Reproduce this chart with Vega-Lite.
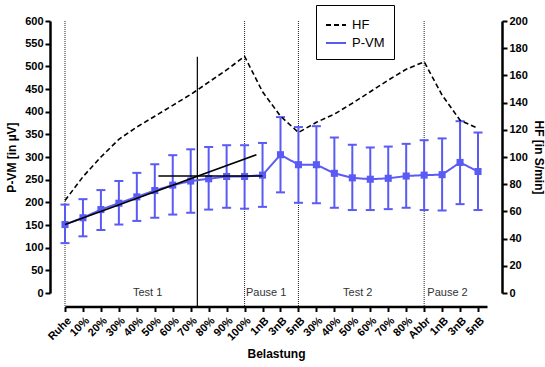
{
  "$schema": "https://vega.github.io/schema/vega-lite/v6.json",
  "width": 422,
  "height": 272,
  "autosize": {"type": "none"},
  "padding": {"left": 65, "top": 21, "right": 58, "bottom": 74},
  "background": "white",
  "config": {
    "view": {"stroke": null},
    "axis": {
      "domainColor": "black", "domainWidth": 2.5, "tickColor": "black", "tickWidth": 2, "tickSize": 5,
      "labelFont": "Liberation Sans", "labelFontWeight": "bold", "labelFontSize": 11, "labelColor": "black",
      "titleFont": "Liberation Sans", "titleFontWeight": "bold", "titleFontSize": 12, "titleColor": "black",
      "grid": false
    },
    "legend": {"labelFont": "Liberation Sans", "labelFontSize": 13, "labelColor": "black"}
  },
  "datasets": {
    "pvm": [
      {"i": 0, "series": "P-VM", "pvm": 151, "lo": 110, "hi": 195},
      {"i": 1, "series": "P-VM", "pvm": 166, "lo": 125, "hi": 207},
      {"i": 2, "series": "P-VM", "pvm": 184, "lo": 139, "hi": 227},
      {"i": 3, "series": "P-VM", "pvm": 198, "lo": 151, "hi": 247},
      {"i": 4, "series": "P-VM", "pvm": 212, "lo": 159, "hi": 265},
      {"i": 5, "series": "P-VM", "pvm": 226, "lo": 166, "hi": 284},
      {"i": 6, "series": "P-VM", "pvm": 238, "lo": 173, "hi": 304},
      {"i": 7, "series": "P-VM", "pvm": 247, "lo": 177, "hi": 317},
      {"i": 8, "series": "P-VM", "pvm": 252, "lo": 184, "hi": 322},
      {"i": 9, "series": "P-VM", "pvm": 257, "lo": 188, "hi": 326},
      {"i": 10, "series": "P-VM", "pvm": 257, "lo": 186, "hi": 326},
      {"i": 11, "series": "P-VM", "pvm": 260, "lo": 190, "hi": 331},
      {"i": 12, "series": "P-VM", "pvm": 305, "lo": 222, "hi": 388},
      {"i": 13, "series": "P-VM", "pvm": 283, "lo": 199, "hi": 366},
      {"i": 14, "series": "P-VM", "pvm": 283, "lo": 198, "hi": 368},
      {"i": 15, "series": "P-VM", "pvm": 264, "lo": 188, "hi": 343},
      {"i": 16, "series": "P-VM", "pvm": 254, "lo": 183, "hi": 327},
      {"i": 17, "series": "P-VM", "pvm": 251, "lo": 183, "hi": 321},
      {"i": 18, "series": "P-VM", "pvm": 253, "lo": 185, "hi": 323},
      {"i": 19, "series": "P-VM", "pvm": 258, "lo": 188, "hi": 329},
      {"i": 20, "series": "P-VM", "pvm": 260, "lo": 183, "hi": 337},
      {"i": 21, "series": "P-VM", "pvm": 261, "lo": 182, "hi": 341},
      {"i": 22, "series": "P-VM", "pvm": 288, "lo": 196, "hi": 379},
      {"i": 23, "series": "P-VM", "pvm": 268, "lo": 183, "hi": 354}
    ],
    "hf": [
      {"i": 0, "series": "HF", "hf": 68},
      {"i": 1, "series": "HF", "hf": 85.5},
      {"i": 2, "series": "HF", "hf": 100},
      {"i": 3, "series": "HF", "hf": 113},
      {"i": 4, "series": "HF", "hf": 122},
      {"i": 5, "series": "HF", "hf": 130},
      {"i": 6, "series": "HF", "hf": 138},
      {"i": 7, "series": "HF", "hf": 146},
      {"i": 8, "series": "HF", "hf": 155},
      {"i": 9, "series": "HF", "hf": 164},
      {"i": 10, "series": "HF", "hf": 174},
      {"i": 11, "series": "HF", "hf": 148},
      {"i": 12, "series": "HF", "hf": 130},
      {"i": 13, "series": "HF", "hf": 118},
      {"i": 14, "series": "HF", "hf": 125.5},
      {"i": 15, "series": "HF", "hf": 131.5},
      {"i": 16, "series": "HF", "hf": 139.5},
      {"i": 17, "series": "HF", "hf": 148},
      {"i": 18, "series": "HF", "hf": 156.5},
      {"i": 19, "series": "HF", "hf": 164.5},
      {"i": 20, "series": "HF", "hf": 170},
      {"i": 21, "series": "HF", "hf": 145.5},
      {"i": 22, "series": "HF", "hf": 127},
      {"i": 23, "series": "HF", "hf": 121}
    ],
    "dotted": [{"i": 0, "top": 600, "bottom": -30}, {"i": 10, "top": 600, "bottom": -30}, {"i": 13, "top": 600, "bottom": -30}, {"i": 20, "top": 600, "bottom": -30}],
    "solid": [{"i": 7.37, "top": 521, "bottom": -30}],
    "reg1": [{"i": 0, "v": 151}, {"i": 10.66, "v": 305}],
    "reg2": [{"i": 5.2, "v": 258}, {"i": 11.0, "v": 258}],
    "phases": [
      {"i": 4.6, "v": 0, "label": "Test 1"},
      {"i": 11.2, "v": 0, "label": "Pause 1"},
      {"i": 16.3, "v": 0, "label": "Test 2"},
      {"i": 21.3, "v": 0, "label": "Pause 2"}
    ]
  },
  "encoding": {
    "x": {"field": "i", "type": "quantitative", "scale": {"domain": [0, 23.5], "nice": false, "zero": false},
      "axis": {"values": [0,1,2,3,4,5,6,7,8,9,10,11,12,13,14,15,16,17,18,19,20,21,22,23],
        "labelExpr": "['Ruhe','10%','20%','30%','40%','50%','60%','70%','80%','90%','100%','1nB','3nB','5nB','30%','40%','50%','60%','70%','80%','Abbr','1nB','3nB','5nB'][datum.value]",
        "labelAngle": -45, "labelAlign": "right", "labelBaseline": "top", "labelPadding": 3, "labelOverlap": false, "labelFlush": false, "labelBound": false,
        "offset": 13.5, "title": "Belastung", "titlePadding": 6}}
  },
  "resolve": {"scale": {"y": "independent"}, "axis": {"y": "independent"}},
  "layer": [
    {
      "layer": [
        {
          "data": {"name": "dotted"},
          "mark": {"type": "rule", "color": "#222", "strokeWidth": 1, "strokeDash": [1, 1]},
          "encoding": {
            "y": {"field": "top", "type": "quantitative", "scale": {"domain": [0, 600], "nice": false},
              "axis": {"values": [0,50,100,150,200,250,300,350,400,450,500,550,600], "labelOverlap": false, "labelFlush": false, "offset": 15, "title": "P-VM [in µV]", "titlePadding": 6, "labelPadding": 2}},
            "y2": {"field": "bottom"}
          }
        },
        {
          "data": {"name": "solid"},
          "mark": {"type": "rule", "color": "black", "strokeWidth": 1.2},
          "encoding": {
            "y": {"field": "top", "type": "quantitative",
              "axis": {"values": [0,50,100,150,200,250,300,350,400,450,500,550,600], "labelOverlap": false, "labelFlush": false, "offset": 15, "title": "P-VM [in µV]", "titlePadding": 6, "labelPadding": 2}},
            "y2": {"field": "bottom"}
          }
        },
        {
          "data": {"name": "phases"},
          "mark": {"type": "text", "font": "Liberation Sans", "fontSize": 11, "color": "#333", "baseline": "middle", "align": "center"},
          "encoding": {
            "y": {"field": "v", "type": "quantitative",
              "axis": {"values": [0,50,100,150,200,250,300,350,400,450,500,550,600], "labelOverlap": false, "labelFlush": false, "offset": 15, "title": "P-VM [in µV]", "titlePadding": 6, "labelPadding": 2}},
            "text": {"field": "label"}
          }
        },
        {
          "data": {"name": "pvm"},
          "mark": {"type": "rule", "color": "#5a5af5", "strokeWidth": 2},
          "encoding": {
            "y": {"field": "lo", "type": "quantitative",
              "axis": {"values": [0,50,100,150,200,250,300,350,400,450,500,550,600], "labelOverlap": false, "labelFlush": false, "offset": 15, "title": "P-VM [in µV]", "titlePadding": 6, "labelPadding": 2}},
            "y2": {"field": "hi"}
          }
        },
        {
          "data": {"name": "pvm"},
          "mark": {"type": "tick", "orient": "horizontal", "color": "#5a5af5", "size": 9, "thickness": 2, "opacity": 1},
          "encoding": {
            "y": {"field": "lo", "type": "quantitative",
              "axis": {"values": [0,50,100,150,200,250,300,350,400,450,500,550,600], "labelOverlap": false, "labelFlush": false, "offset": 15, "title": "P-VM [in µV]", "titlePadding": 6, "labelPadding": 2}}
          }
        },
        {
          "data": {"name": "pvm"},
          "mark": {"type": "tick", "orient": "horizontal", "color": "#5a5af5", "size": 9, "thickness": 2, "opacity": 1},
          "encoding": {
            "y": {"field": "hi", "type": "quantitative",
              "axis": {"values": [0,50,100,150,200,250,300,350,400,450,500,550,600], "labelOverlap": false, "labelFlush": false, "offset": 15, "title": "P-VM [in µV]", "titlePadding": 6, "labelPadding": 2}}
          }
        },
        {
          "data": {"name": "pvm"},
          "mark": {"type": "line", "strokeWidth": 2},
          "encoding": {
            "y": {"field": "pvm", "type": "quantitative",
              "axis": {"values": [0,50,100,150,200,250,300,350,400,450,500,550,600], "labelOverlap": false, "labelFlush": false, "offset": 15, "title": "P-VM [in µV]", "titlePadding": 6, "labelPadding": 2}},
            "color": {"field": "series", "type": "nominal", "scale": {"domain": ["HF", "P-VM"], "range": ["black", "#5a5af5"]},
              "legend": {"title": null, "orient": "none", "legendX": 251, "legendY": -16, "symbolType": "stroke", "symbolSize": 400, "symbolStrokeWidth": 2,
                "strokeColor": "black", "fillColor": "white", "padding": 9, "rowPadding": -4, "labelOffset": 5}},
            "strokeDash": {"field": "series", "type": "nominal", "scale": {"domain": ["HF", "P-VM"], "range": [[5, 3], [1, 0]]},
              "legend": {"title": null, "orient": "none", "legendX": 251, "legendY": -16, "symbolType": "stroke", "symbolSize": 400, "symbolStrokeWidth": 2,
                "strokeColor": "black", "fillColor": "white", "padding": 9, "rowPadding": -4, "labelOffset": 5}}
          }
        },
        {
          "data": {"name": "pvm"},
          "mark": {"type": "point", "shape": "square", "filled": true, "size": 50, "color": "#5a5af5", "opacity": 1},
          "encoding": {
            "y": {"field": "pvm", "type": "quantitative",
              "axis": {"values": [0,50,100,150,200,250,300,350,400,450,500,550,600], "labelOverlap": false, "labelFlush": false, "offset": 15, "title": "P-VM [in µV]", "titlePadding": 6, "labelPadding": 2}}
          }
        },
        {
          "data": {"name": "reg1"},
          "mark": {"type": "line", "color": "black", "strokeWidth": 1.5},
          "encoding": {
            "y": {"field": "v", "type": "quantitative",
              "axis": {"values": [0,50,100,150,200,250,300,350,400,450,500,550,600], "labelOverlap": false, "labelFlush": false, "offset": 15, "title": "P-VM [in µV]", "titlePadding": 6, "labelPadding": 2}}
          }
        },
        {
          "data": {"name": "reg2"},
          "mark": {"type": "line", "color": "black", "strokeWidth": 1.5},
          "encoding": {
            "y": {"field": "v", "type": "quantitative",
              "axis": {"values": [0,50,100,150,200,250,300,350,400,450,500,550,600], "labelOverlap": false, "labelFlush": false, "offset": 15, "title": "P-VM [in µV]", "titlePadding": 6, "labelPadding": 2}}
          }
        }
      ]
    },
    {
      "data": {"name": "hf"},
      "mark": {"type": "line", "strokeWidth": 1.6},
      "encoding": {
        "y": {"field": "hf", "type": "quantitative", "scale": {"domain": [0, 200], "nice": false},
          "axis": {"orient": "right", "values": [0,20,40,60,80,100,120,140,160,180,200], "labelOverlap": false, "labelFlush": false, "offset": 15, "title": "HF [in S/min]", "titlePadding": 4, "labelPadding": 2}},
        "color": {"field": "series", "type": "nominal"},
        "strokeDash": {"field": "series", "type": "nominal"}
      }
    }
  ]
}
